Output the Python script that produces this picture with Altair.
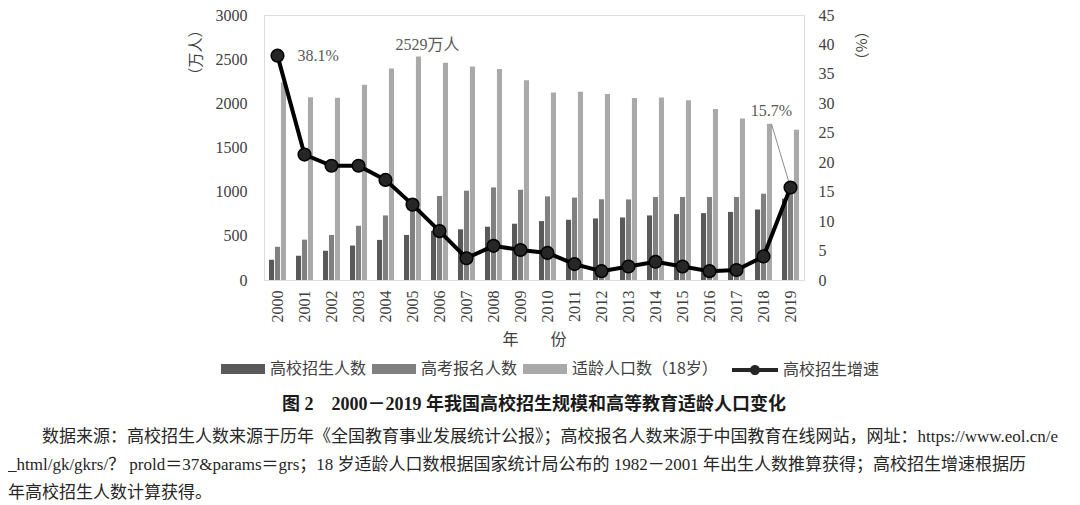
import altair as alt
import pandas as pd

# ---------------- data ----------------
years = [str(y) for y in range(2000, 2020)]
series_names = ["高校招生人数", "高考报名人数", "适龄人口数（18岁）"]
enroll = [230, 275, 331, 390, 454, 510, 555, 574, 603, 637, 667, 682, 697, 708, 731, 746, 757, 771, 798, 921]
applicants = [376, 457, 510, 614, 731, 877, 951, 1011, 1048, 1022, 947, 933, 914, 912, 940, 940, 940, 940, 977, 1031]
pop18 = [2240, 2068, 2064, 2210, 2393, 2529, 2460, 2416, 2390, 2262, 2124, 2132, 2105, 2060, 2065, 2035, 1937, 1829, 1769, 1702]
growth_name = "高校招生增速"
growth = [38.1, 21.3, 19.4, 19.4, 17.0, 12.8, 8.3, 3.7, 5.8, 5.1, 4.6, 2.7, 1.5, 2.3, 3.1, 2.3, 1.5, 1.7, 4.0, 15.7]

left_ticks = [0, 500, 1000, 1500, 2000, 2500, 3000]
right_ticks = [0, 5, 10, 15, 20, 25, 30, 35, 40, 45]

caption = "图 2　2000－2019 年我国高校招生规模和高等教育适龄人口变化"
source_lines = [
    "数据来源：高校招生人数来源于历年《全国教育事业发展统计公报》；高校报名人数来源于中国教育在线网站，网址：https://www.eol.cn/e",
    "_html/gk/gkrs/？ prold＝37&params＝grs；18 岁适龄人口数根据国家统计局公布的 1982－2001 年出生人数推算获得；高校招生增速根据历",
    "年高校招生人数计算获得。",
]

# ---------------- styles ----------------
SERIF = "Liberation Serif"
MIX = "Liberation Serif, Noto Sans CJK SC"
CJK = "Noto Sans CJK SC"
bar_colors = ["#595959", "#808080", "#a9a9a9"]
TXT = "#404040"

df_bars = pd.DataFrame({
    "year": years * 3,
    "series": [series_names[0]] * 20 + [series_names[1]] * 20 + [series_names[2]] * 20,
    "value": enroll + applicants + pop18,
})
df_line = pd.DataFrame({"year": years, "pct": growth, "name": [growth_name] * 20})

xscale = alt.Scale(domain=years, paddingInner=0.37, paddingOuter=0.185)
xaxis = alt.Axis(title="年　　份", labelAngle=-90, labelFont=SERIF, labelFontSize=16,
                 labelColor=TXT, labelPadding=10, ticks=False, domain=False, grid=False,
                 titleFont=CJK, titleFontSize=16, titleFontWeight="normal", titleColor=TXT,
                 titlePadding=9)
X = alt.X("year:O", scale=xscale, axis=xaxis)

lscale = alt.Scale(domain=[0, 3000], nice=False)
laxis = alt.Axis(orient="left", values=left_ticks, format="d", title="（万人）", labelFont=SERIF,
                 labelFontSize=16, labelColor=TXT, labelPadding=17, ticks=False, domain=False,
                 grid=False, titleFont=CJK, titleFontSize=15, titleFontWeight="normal",
                 titleColor=TXT, titleX=-69, titleY=37, titleAngle=-90, titleAlign="center",
                 titleBaseline="middle")
rscale = alt.Scale(domain=[0, 45], nice=False)
raxis = alt.Axis(orient="right", values=right_ticks, format="d", title="（%）", labelFont=SERIF,
                 labelFontSize=16, labelColor=TXT, labelPadding=14, ticks=False, domain=False,
                 grid=False, titleFont=CJK, titleFontSize=15, titleFontWeight="normal",
                 titleColor=TXT, titleX=56, titleY=30, titleAngle=90, titleAlign="center",
                 titleBaseline="middle")

bars = alt.Chart(df_bars).mark_bar().encode(
    x=X,
    xOffset=alt.XOffset("series:N", scale=alt.Scale(domain=series_names, paddingInner=0.15)),
    y=alt.Y("value:Q", scale=lscale, axis=laxis),
    color=alt.Color("series:N", scale=alt.Scale(domain=series_names, range=bar_colors),
                    legend=alt.Legend(title=None, orient="none", legendX=-43, legendY=332,
                                      direction="horizontal", symbolType="M-1,-0.23H1V0.23H-1Z",
                                      symbolSize=1936, symbolStrokeWidth=0, labelFont=CJK,
                                      labelFontSize=16, labelColor=TXT, labelOffset=5,
                                      columnPadding=5, padding=0)),
)

t2529 = alt.Chart(pd.DataFrame({"year": ["2005"], "value": [2529], "label": ["2529万人"]})).mark_text(
    font=MIX, fontSize=16, color="#595959", dx=15, dy=-12, align="center", baseline="middle"
).encode(x=X, y=alt.Y("value:Q", scale=lscale, axis=laxis), text="label:N")

left = alt.layer(bars, t2529)

line = alt.Chart(df_line).mark_line(color="black", strokeWidth=4).encode(
    x=X, y=alt.Y("pct:Q", scale=rscale, axis=raxis))

points = alt.Chart(df_line).mark_circle(size=160, stroke="black", strokeWidth=1.5, opacity=1).encode(
    x=X, y=alt.Y("pct:Q", scale=rscale, axis=raxis),
    fill=alt.Fill("name:N", scale=alt.Scale(domain=[growth_name], range=["#262626"]),
                  legend=alt.Legend(title=None, orient="none", legendX=468, legendY=332,
                                    direction="horizontal",
                                    symbolType="M-1,-0.09H1V0.09H-1Z M-0.22,0A0.22,0.22 0 1,1 0.22,0A0.22,0.22 0 1,1 -0.22,0Z",
                                    symbolSize=2116, symbolStrokeWidth=0, labelFont=CJK,
                                    labelFontSize=16, labelColor=TXT, labelOffset=5, padding=0)),
)

lead = alt.Chart(pd.DataFrame({"year": ["2019"], "year2": ["2018"], "pct": [15.7], "pct2": [26.5]})).mark_rule(
    color="#8c8c8c", strokeWidth=1, x2Offset=8
).encode(x=X, x2="year2:O", y=alt.Y("pct:Q", scale=rscale, axis=raxis), y2="pct2:Q")

t381 = alt.Chart(pd.DataFrame({"year": ["2000"], "pct": [38.1], "label": ["38.1%"]})).mark_text(
    font=MIX, fontSize=16, color="#595959", dx=20, align="left", baseline="middle"
).encode(x=X, y=alt.Y("pct:Q", scale=rscale, axis=raxis), text="label:N")

t157 = alt.Chart(pd.DataFrame({"year": ["2018"], "pct": [26.5], "label": ["15.7%"]})).mark_text(
    font=MIX, fontSize=16, color="#595959", dx=8, dy=-13, align="center", baseline="middle"
).encode(x=X, y=alt.Y("pct:Q", scale=rscale, axis=raxis), text="label:N")

right = alt.layer(lead, line, points, t381, t157)


def label(text, px, py, **kw):
    return alt.Chart(pd.DataFrame({"t": [text]})).mark_text(**kw).encode(
        text="t:N", x=alt.value(px), y=alt.value(py))


# plot area origin is at page (264, 15)
cap = label(caption, 270, 390, font=MIX, fontSize=18, fontWeight="bold", color="#1a1a1a",
            align="center", baseline="middle")
src1 = label(source_lines[0], -222, 422, font=MIX, fontSize=17, color="#262626", align="left", baseline="middle")
src2 = label(source_lines[1], -256, 450, font=MIX, fontSize=17, color="#262626", align="left", baseline="middle")
src3 = label(source_lines[2], -256, 478, font=MIX, fontSize=17, color="#262626", align="left", baseline="middle")

chart = alt.layer(left, right, cap, src1, src2, src3).resolve_scale(
    y="independent", color="independent"
).properties(
    width=540, height=265,
    padding={"left": 256, "top": 7, "right": 268, "bottom": 226},
    autosize=alt.AutoSizeParams(type="none"),
).configure_view(stroke="#505050", strokeWidth=1.5).configure(background="white")

chart.save("out.html", embed_options={"renderer": "svg", "actions": False})
